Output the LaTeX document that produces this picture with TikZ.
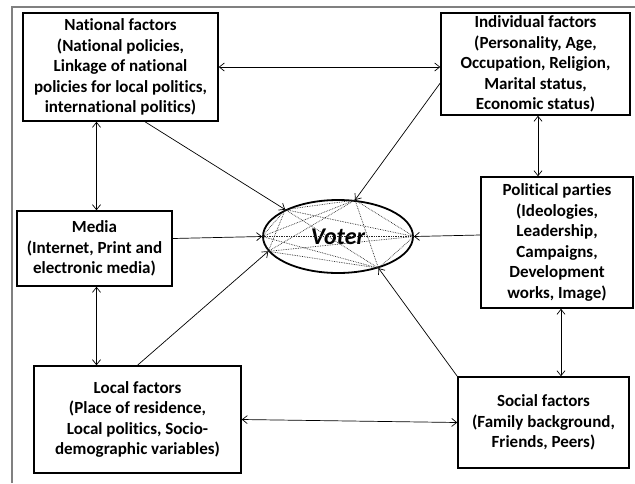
\documentclass[tikz,border=0pt]{standalone}
\usepackage{fontspec}
\setmainfont{Carlito}[Ligatures=NoCommon]
\usetikzlibrary{arrows.meta,shapes.geometric,calc}
\tikzset{
  factor/.style={draw=black, line width=1.5pt, rectangle, inner sep=0pt, align=center,
    font=\bfseries\fontsize{17}{20.5}\selectfont},
  link/.style={line width=0.7pt, -{Straight Barb[length=5pt,width=8pt]}},
  dlink/.style={line width=0.7pt, {Straight Barb[length=5pt,width=8pt]}-{Straight Barb[length=5pt,width=8pt]}},
  web/.style={densely dotted, line width=0.7pt, black!85}
}
\begin{document}
\begin{tikzpicture}[x=1pt,y=-1pt]
\useasboundingbox (0,0) rectangle (635,483);
% outer frame
\coordinate (fbl) at (12,483);
\coordinate (ftl) at (12,7);
\coordinate (ftr) at (635,7);
\draw[gray, line width=1.2pt] (fbl) -- (ftl) -- (ftr);

\node[factor, minimum width=195pt, minimum height=108pt] (nat) at (120.5,67)
  {National factors\\(National policies,\\Linkage of national\\policies for local politics,\\international politics)};
\node[factor, minimum width=189pt, minimum height=102pt] (ind) at (535.5,64)
  {Individual factors\\(Personality, Age,\\Occupation, Religion,\\Marital status,\\Economic status)};
\node[factor, minimum width=152pt, minimum height=131pt] (pol) at (557,242.5)
  {Political parties\\(Ideologies,\\Leadership,\\Campaigns,\\Development\\works, Image)};
\node[factor, minimum width=171pt, minimum height=91pt] (soc) at (543.5,422.5)
  {Social factors\\(Family background,\\Friends, Peers)};
\node[factor, minimum width=155pt, minimum height=75pt] (med) at (94.5,248.5)
  {Media\\(Internet, Print and\\electronic media)};
\node[factor, minimum width=207pt, minimum height=107pt] (loc) at (137.5,419.5)
  {Local factors\\(Place of residence,\\Local politics, Socio-\\demographic variables)};

\node[ellipse, draw, line width=1.8pt, minimum width=150pt, minimum height=73pt, inner sep=0pt,
  font=\bfseries\itshape\fontsize{24}{26}\selectfont] (voter) at (338,236.5) {Voter};

% contact points on the ellipse
\coordinate (pA) at (voter.153);
\coordinate (pB) at (voter.65);
\coordinate (pC) at (voter.0);
\coordinate (pD) at (voter.-38);
\coordinate (pE) at (voter.192);
\coordinate (pF) at (voter.180);

% dotted web
\foreach \a/\b in {pA/pB,pA/pC,pA/pD,pA/pE,pA/pF,pB/pC,pB/pD,pB/pE,pB/pF,pC/pD,pC/pE,pC/pF,pD/pE,pD/pF,pE/pF}
  \draw[web] (\a) -- (\b);

% arrows into the voter
\draw[link] ([xshift=24.5pt]nat.south) -- (pA);
\draw[link] ([yshift=-19pt]ind.west) -- (pB);
\draw[link] ([yshift=7.5pt]pol.west) -- (pC);
\draw[link] (soc.north west) -- (pD);
\draw[link] (loc.north) -- (pE);
\draw[link] ([yshift=10pt]med.east) -- (pF);

% links between factors
\draw[dlink] (nat.east) -- (nat.east -| ind.west);
\draw[dlink] ([xshift=2pt]med.north) -- ([xshift=2pt]med.north |- nat.south);
\draw[dlink] ([xshift=2pt]med.south) -- ([xshift=2pt]med.south |- loc.north);
\draw[dlink] ([xshift=-19pt]pol.north) -- ([xshift=-19pt]pol.north |- ind.south);
\draw[dlink] ([xshift=4pt]pol.south) -- ([xshift=4pt]pol.south |- soc.north);
\draw[dlink] (loc.east) -- (soc.west);
\end{tikzpicture}
\end{document}
